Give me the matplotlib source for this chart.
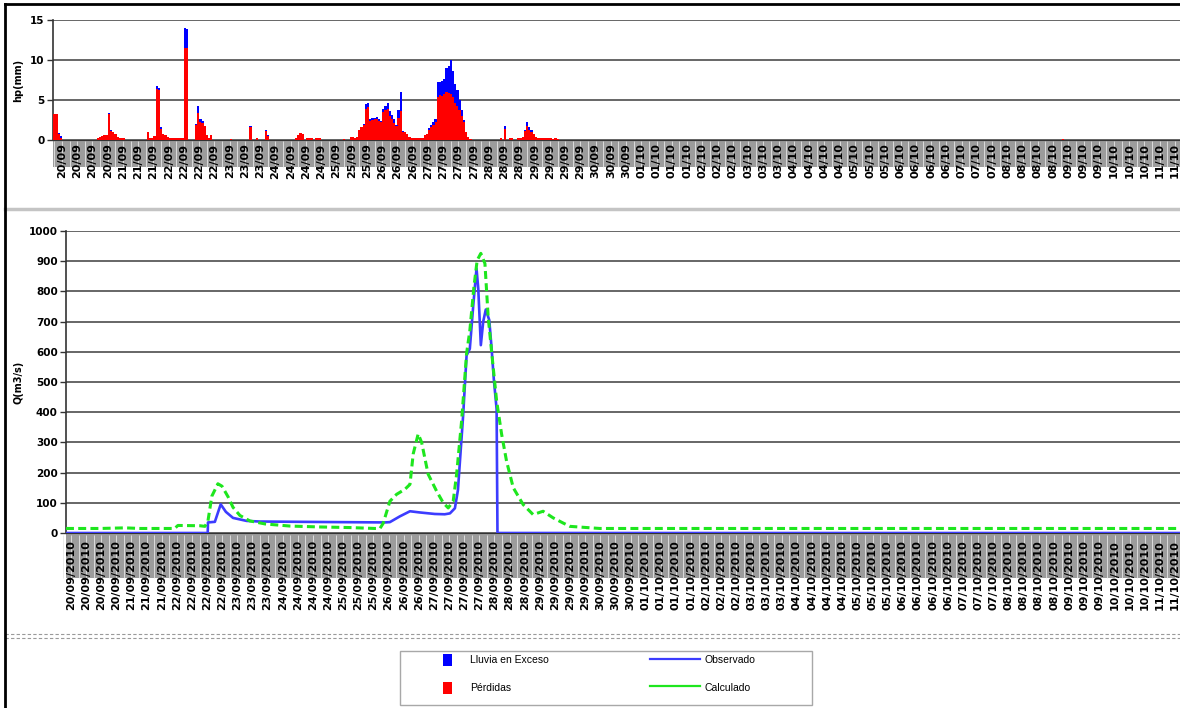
import numpy as np
import pandas as pd
import matplotlib
matplotlib.use("Agg")
import matplotlib.pyplot as plt
from matplotlib.patches import Rectangle, Patch
from matplotlib.lines import Line2D

# ---------------- DATA ----------------
# hourly rain (mm), first value at hour -4 relative to 20/09/2010 00:00
inicio_lluvia = -4
perdidas = [
    3.2, 3.2, 0.8, 0.3, 0, 0, 0, 0, 0, 0, 0, 0,
    0, 0, 0, 0, 0, 0, 0, 0, 0.3, 0.4, 0.5, 0.6,
    0.6, 3.2, 1.1, 1.0, 0.7, 0.4, 0.3, 0.2, 0.2, 0, 0, 0,
    0, 0, 0, 0, 0, 0, 0, 1.0, 0.2, 0.3, 0.5, 6.4,
    6.3, 1.4, 0.8, 0.6, 0.4, 0.2, 0.2, 0.2, 0.2, 0.2, 0.2, 0.2,
    11.5, 11.5, 0, 0, 0, 1.9, 3.4, 2.2, 2.1, 1.7, 0.6, 0.3,
    0.6, 0, 0, 0, 0, 0, 0, 0, 0, 0.1, 0, 0,
    0, 0, 0, 0, 0, 0, 1.6, 0, 0, 0.2, 0, 0,
    0, 1.1, 0.5, 0, 0, 0, 0, 0, 0, 0, 0, 0,
    0, 0, 0, 0.3, 0.6, 0.9, 0.7, 0, 0.2, 0.2, 0.2, 0,
    0.2, 0.2, 0.2, 0, 0, 0, 0, 0, 0, 0, 0, 0,
    0, 0.1, 0, 0, 0.4, 0.4, 0.3, 0.4, 1.2, 1.6, 1.9, 3.9,
    4.1, 2.4, 2.5, 2.6, 2.6, 2.4, 2.2, 3.5, 3.7, 3.9, 3.0, 2.6,
    2.1, 1.7, 2.8, 3.6, 1.0, 1.0, 0.8, 0.4, 0.2, 0.2, 0.2, 0.2,
    0.2, 0.2, 0.6, 0.8, 1.3, 1.6, 1.9, 2.2, 5.4, 5.6, 5.5, 5.8,
    6.0, 5.9, 5.8, 5.4, 4.6, 4.3, 3.8, 3.0, 2.3, 1.0, 0.4, 0.1,
    0, 0, 0, 0, 0, 0, 0, 0, 0, 0, 0, 0,
    0, 0.2, 0, 1.4, 0, 0.2, 0.2, 0, 0, 0.3, 0.3, 0.4,
    1.1, 1.7, 1.3, 1.0, 0.8, 0.4, 0.2, 0.2, 0.2, 0.2, 0.2, 0.2,
    0.2, 0.1, 0.2, 0.1,
]
exceso = [
    0.1, 0.1, 0.1, 0.2, 0, 0, 0, 0, 0, 0, 0, 0,
    0, 0, 0, 0, 0, 0, 0, 0, 0, 0, 0, 0,
    0, 0.2, 0.1, 0, 0, 0, 0, 0, 0, 0, 0, 0,
    0, 0, 0, 0, 0, 0, 0, 0, 0, 0, 0, 0.3,
    0.2, 0.2, 0, 0, 0, 0, 0, 0, 0, 0, 0, 0,
    2.5, 2.4, 0, 0, 0, 0.1, 0.9, 0.4, 0.3, 0, 0, 0,
    0, 0, 0, 0, 0, 0, 0, 0, 0, 0, 0, 0,
    0, 0, 0, 0, 0, 0, 0.2, 0, 0, 0, 0, 0,
    0, 0.2, 0.1, 0, 0, 0, 0, 0, 0, 0, 0, 0,
    0, 0, 0, 0, 0, 0, 0, 0, 0, 0, 0, 0,
    0, 0, 0, 0, 0, 0, 0, 0, 0, 0, 0, 0,
    0, 0, 0, 0, 0, 0, 0, 0, 0, 0, 0.1, 0.6,
    0.5, 0.2, 0.2, 0.2, 0.3, 0.2, 0.2, 0.4, 0.6, 0.7, 0.6, 0.5,
    0.5, 0.2, 0.9, 2.4, 0.1, 0, 0, 0, 0, 0, 0, 0,
    0, 0, 0, 0, 0.2, 0.3, 0.3, 0.4, 1.8, 1.7, 1.9, 1.8,
    3.0, 3.4, 4.2, 3.2, 2.4, 1.9, 1.2, 0.7, 0.2, 0, 0, 0,
    0, 0, 0, 0, 0, 0, 0, 0, 0, 0, 0, 0,
    0, 0, 0, 0.3, 0, 0, 0, 0, 0, 0, 0, 0,
    0.1, 0.6, 0.3, 0.2, 0, 0, 0, 0, 0, 0, 0, 0,
    0, 0, 0, 0,
]
# isolated late drizzle
horas_lluvia_tardia = [459]
perdidas_tardia = [0.15]

# Hydrographs (hours from 20/09/2010 00:00, m3/s)
obs_h = [-2.3, 63.3, 63.4, 66.6, 69.3, 71.7, 75.0, 81.3, 87.5, 106, 124.5, 145.3,
         147.6, 152.2, 156.9, 161.5, 168.4, 173.0, 175.4, 177.7, 179.1, 181.5,
         183.1, 184.6, 186.2, 187.7, 188.5, 189.7, 190.8, 192.0, 193.6, 194.7,
         195.7, 197.0, 197.4, 513.3]
obs_q = [0, 0, 35, 37, 95, 70, 50, 40, 38, 37, 36, 35,
         36, 55, 72, 68, 63, 62, 65, 82, 142, 388,
         588, 610, 754, 876, 810, 622, 700, 740, 705, 610,
         510, 410, 0, 0]

calc_h = [-2.3, 13.4, 25, 32, 48, 49.5, 59.7, 62, 63.4, 65.2, 68.0, 69.9,
          72.7, 75.0, 78.2, 82.8, 89.8, 101.3, 115.2, 129.1, 140.7, 143.0,
          144.5, 147.6, 150.7, 154.6, 156.9, 158.4, 160.7, 162.3, 165.3, 169.2,
          172.3, 174.6, 176.9, 178.5, 180.8, 183.1, 184.6, 186.5, 188.0, 189.7,
          191.6, 193.1, 195.1, 197.0, 199.3, 201.6, 204.7, 209.3, 213.9, 218.5,
          223.2, 227.8, 230.9, 244.8, 513.3]
calc_q = [15, 15, 17, 15, 15, 25, 24, 22, 40, 122, 163, 155,
          120, 85, 58, 40, 30, 23, 20, 18, 15, 15,
          32, 105, 128, 145, 161, 262, 328, 300, 195, 139,
          100, 83, 105, 195, 371, 594, 670, 815, 903, 926,
          892, 715, 571, 438, 328, 238, 150, 94, 61, 72,
          50, 33, 22, 15, 15]

# x tick labels: every 7 hours from 20/09/2010 00:00
tick_horas = list(range(0, 512, 7))
_fechas = pd.Timestamp("2010-09-20") + pd.to_timedelta(tick_horas, unit="h")
etiquetas_cortas = [f.strftime("%d/%m") for f in _fechas]
etiquetas_largas = [f.strftime("%d/%m/%Y") for f in _fechas]

# ---------------- FIGURE ----------------
W, H = 1180, 708
fig = plt.figure(figsize=(W / 100, H / 100), dpi=100)
fig.patch.set_facecolor("white")


def fx(px):
    return px / W


def fy(py):
    return 1 - py / H


grid_col = "#5a5a5a"
tick_font = dict(fontsize=8, fontweight="bold", family="DejaVu Sans")

# ---- top panel: rain ----
ax1 = fig.add_axes([fx(53), fy(140), fx(1180 - 53), (140 - 20) / H])
hrs = np.arange(inicio_lluvia, inicio_lluvia + len(perdidas))
ax1.bar(hrs, perdidas, width=1.05, align="edge", color="#ff0000", linewidth=0, zorder=3)
ax1.bar(hrs, exceso, bottom=perdidas, width=1.05, align="edge", color="#0000ff",
        linewidth=0, zorder=3)
ax1.bar(horas_lluvia_tardia, perdidas_tardia, width=1.05, align="edge",
        color="#ff0000", linewidth=0, zorder=3)
ax1.set_xlim(-4.13, 513.3)
ax1.set_ylim(0, 15)
ax1.set_yticks([0, 5, 10, 15])
ax1.set_yticklabels(["0", "5", "10", "15"], fontsize=7.5, fontweight="bold")
ax1.yaxis.grid(True, color=grid_col, lw=1.3, zorder=1)
ax1.set_axisbelow(True)
ax1.set_xticks(tick_horas)
ax1.set_xticklabels(etiquetas_cortas, rotation=90, va="top", ha="center", **tick_font)
ax1.tick_params(axis="x", length=0, pad=2.5)
ax1.tick_params(axis="y", length=4, width=1, color="#333333", pad=2)
for s in ["top", "right"]:
    ax1.spines[s].set_visible(False)
ax1.spines["left"].set_color("#333333")
ax1.spines["bottom"].set_color("#333333")
ax1.spines["left"].set_linewidth(1.2)
band1 = 27 / 120
ax1.add_patch(Rectangle((0, -band1), 1, band1, transform=ax1.transAxes,
                        clip_on=False, fc="#9c9c9c", ec="none", zorder=0))
ax1.vlines(np.arange(-3.5, 513, 3.5), -band1, -0.01, transform=ax1.get_xaxis_transform(),
           colors="#e6e6e6", lw=0.6, clip_on=False, zorder=0.5)
fig.text(fx(18), fy(80), "hp(mm)", rotation=90, ha="center", va="center",
         fontsize=7, fontweight="bold")

# ---- bottom panel: discharge ----
ax2 = fig.add_axes([fx(66), fy(533), fx(1180 - 66), (533 - 231) / H])
ax2.plot(obs_h, obs_q, color="#3c3cff", lw=1.9, zorder=3, label="Observado")
ax2.plot(calc_h, calc_q, color="#1ee61e", lw=2.2, ls=(0, (2.6, 1.4)), zorder=4,
         label="Calculado")
ax2.set_xlim(-2.3, 513.3)
ax2.set_ylim(0, 1000)
ax2.set_yticks(range(0, 1001, 100))
ax2.set_yticklabels([str(v) for v in range(0, 1001, 100)], fontsize=7.5, fontweight="bold")
ax2.yaxis.grid(True, color=grid_col, lw=1.3, zorder=1)
ax2.set_axisbelow(True)
ax2.set_xticks(tick_horas)
ax2.set_xticklabels(etiquetas_largas, rotation=90, va="top", ha="center", **tick_font)
ax2.tick_params(axis="x", length=0, pad=5)
ax2.tick_params(axis="y", length=4, width=1, color="#333333", pad=2)
for s in ["top", "right"]:
    ax2.spines[s].set_visible(False)
ax2.spines["left"].set_color("#333333")
ax2.spines["bottom"].set_color("#333333")
ax2.spines["left"].set_linewidth(1.2)
band2 = 45 / 302
ax2.add_patch(Rectangle((0, -band2), 1, band2, transform=ax2.transAxes,
                        clip_on=False, fc="#9c9c9c", ec="none", zorder=0))
ax2.vlines(np.arange(-3.5, 513, 3.5), -band2, -0.005, transform=ax2.get_xaxis_transform(),
           colors="#e6e6e6", lw=0.6, clip_on=False, zorder=0.5)
fig.text(fx(18), fy(382), "Q(m3/s)", rotation=90, ha="center", va="center",
         fontsize=7, fontweight="bold")

# ---- separators & frame ----
fig.add_artist(Line2D([fx(5), 1], [fy(209), fy(209)], color="#c4c4c4", lw=2.5))
fig.add_artist(Line2D([fx(5), 1], [fy(634), fy(634)], color="#9a9a9a", lw=0.8, ls=(0, (3, 2))))
fig.add_artist(Line2D([fx(5), 1], [fy(637.5), fy(637.5)], color="#9a9a9a", lw=0.8, ls=(0, (3, 2))))
fig.add_artist(Line2D([fx(5), fx(5)], [fy(4), 0], color="black", lw=2))
fig.add_artist(Line2D([fx(5), 1], [fy(4), fy(4)], color="black", lw=2))

# ---- legend ----
leg_font = dict(family=["Liberation Sans Narrow", "Liberation Sans", "DejaVu Sans"], size=7.5)
fig.add_artist(Rectangle((fx(400), fy(705)), fx(412), 54 / H, transform=fig.transFigure,
                         fill=False, ec="#a8a8a8", lw=1))
leg1 = fig.legend(handles=[Patch(fc="#0000ff", ec="none"), Patch(fc="#ff0000", ec="none")],
                  labels=["Lluvia en Exceso", "Pérdidas"], loc="upper left",
                  bbox_to_anchor=(fx(443), fy(654)), frameon=False, prop=leg_font,
                  handlelength=0.9, handleheight=1.35, handletextpad=1.7,
                  labelspacing=1.55, borderpad=0, borderaxespad=0)
leg2 = fig.legend(handles=[Line2D([], [], color="#3c3cff", lw=1.6),
                           Line2D([], [], color="#1ee61e", lw=1.6)],
                  labels=["Observado", "Calculado"], loc="upper left",
                  bbox_to_anchor=(fx(650), fy(654)), frameon=False, prop=leg_font,
                  handlelength=4.8, handleheight=1.35, handletextpad=0.45,
                  labelspacing=1.55, borderpad=0, borderaxespad=0)

fig.savefig("out.png", dpi=100, facecolor="white")
